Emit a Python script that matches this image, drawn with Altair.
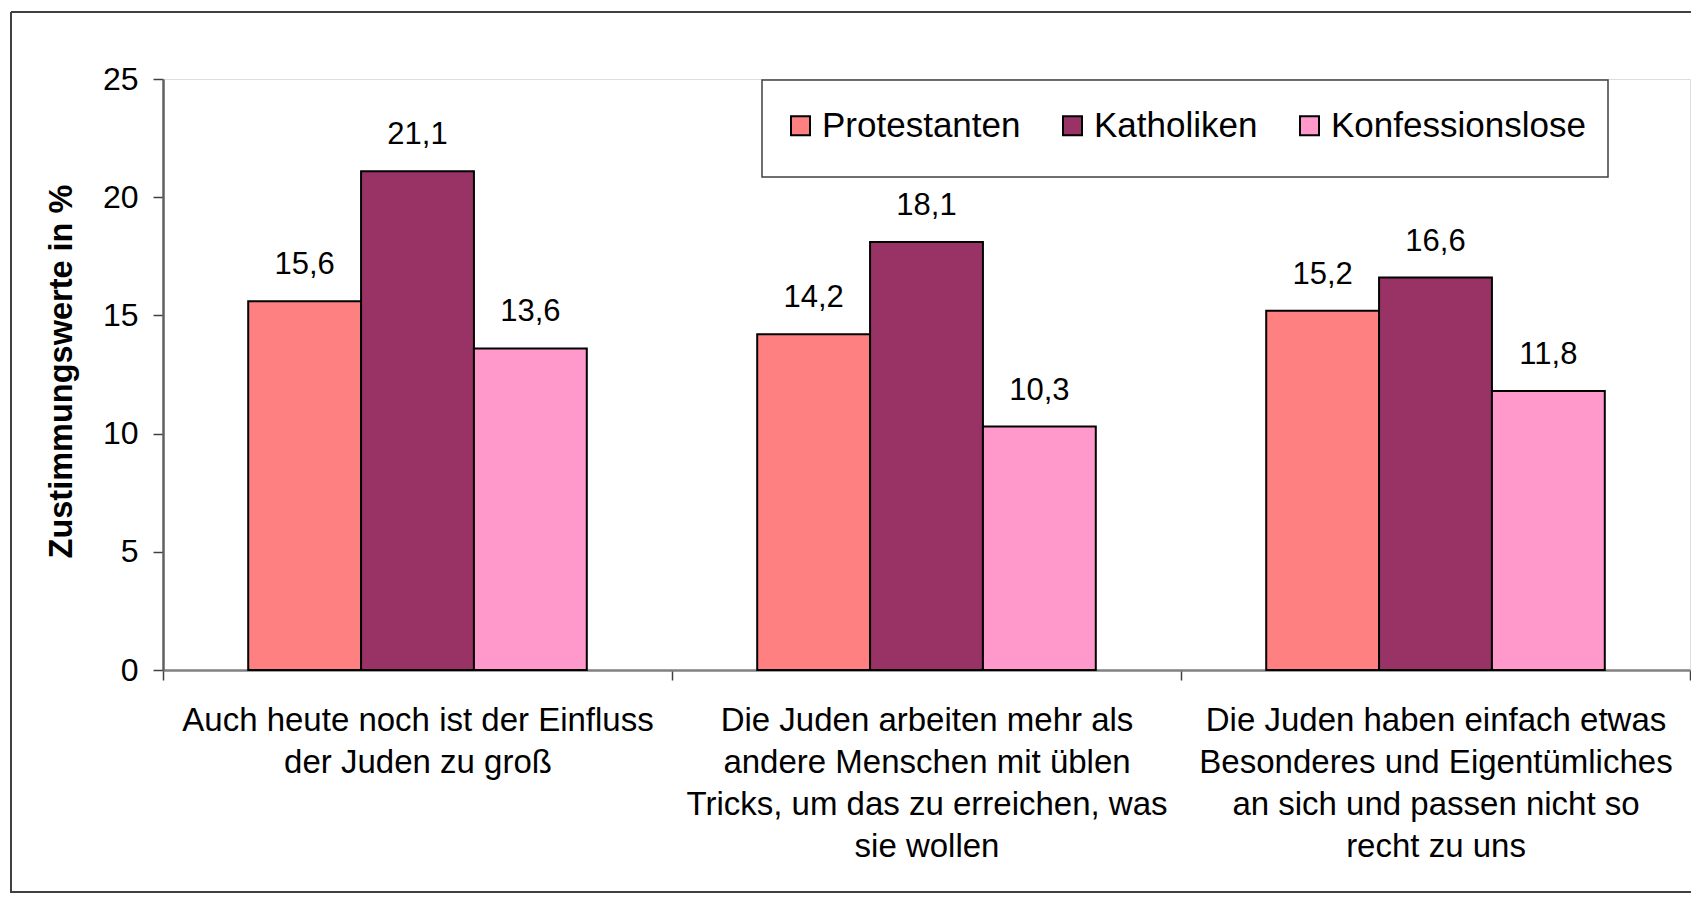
import altair as alt
import pandas as pd

categories = [
    "Auch heute noch ist der Einfluss|der Juden zu groß",
    "Die Juden arbeiten mehr als|andere Menschen mit üblen|Tricks, um das zu erreichen, was|sie wollen",
    "Die Juden haben einfach etwas|Besonderes und Eigentümliches|an sich und passen nicht so|recht zu uns",
]
series = ["Protestanten", "Katholiken", "Konfessionslose"]
protestanten = [15.6, 14.2, 15.2]
katholiken = [21.1, 18.1, 16.6]
konfessionslose = [13.6, 10.3, 11.8]
colors = ["#FF8080", "#993366", "#FF99CC"]
y_ticks = [0, 5, 10, 15, 20, 25]

rows = []
for s, vals in zip(series, [protestanten, katholiken, konfessionslose]):
    for c, v in zip(categories, vals):
        rows.append({"cat": c, "series": s, "value": v})
df = pd.DataFrame(rows)

FONT = "Liberation Sans"
W, H = 1527, 591

x_enc = alt.X(
    "cat:N",
    sort=categories,
    scale=alt.Scale(paddingInner=0, paddingOuter=0),
    axis=alt.Axis(
        title=None,
        labelAngle=0,
        labelExpr="split(datum.label, '|')",
        labelFont=FONT,
        labelFontSize=33,
        labelLineHeight=42,
        labelColor="black",
        labelPadding=24,
        labelLimit=800,
        tickBand="extent",
        tickSize=10,
        tickColor="#404040",
        tickWidth=1.5,
        domainColor="#808080",
        domainWidth=2.5,
    ),
)
xoff = alt.XOffset("series:N", sort=series,
                   scale=alt.Scale(paddingInner=0, paddingOuter=0.755))
y_enc = alt.Y(
    "value:Q",
    scale=alt.Scale(domain=[0, 25], nice=False),
    axis=alt.Axis(
        values=y_ticks,
        title="Zustimmungswerte in %",
        titleFont=FONT,
        titleFontSize=32.5,
        titleFontWeight="bold",
        titleColor="black",
        titleAngle=270,
        titleX=-92,
        titleY=292,
        titleAlign="center",
        titleBaseline="alphabetic",
        labelFont=FONT,
        labelFontSize=32,
        labelColor="black",
        labelPadding=15,
        tickSize=10,
        tickColor="#404040",
        tickWidth=1.5,
        domainColor="#606060",
        domainWidth=2.5,
        grid=False,
    ),
)

one = alt.Data(values=[{}])
legend_box = alt.Chart(one).mark_rect(fill="white", stroke="#404040", strokeWidth=1.5).encode(
    x=alt.value(599), x2=alt.value(1445), y=alt.value(1), y2=alt.value(98))

bars = alt.Chart(df).mark_bar(stroke="black", strokeWidth=2).encode(
    x=x_enc,
    xOffset=xoff,
    y=y_enc,
    color=alt.Color(
        "series:N",
        sort=series,
        scale=alt.Scale(domain=series, range=colors),
        legend=alt.Legend(
            title=None,
            orient="none",
            legendX=620,
            legendY=29,
            direction="horizontal",
            symbolType="square",
            symbolSize=361,
            symbolStrokeColor="black",
            symbolStrokeWidth=2,
            symbolOpacity=1,
            labelFont=FONT,
            labelFontSize=35,
            labelColor="black",
            labelOffset=4,
            labelLimit=400,
            columnPadding=34,
            padding=0,
        ),
    ),
)

labels = alt.Chart(df).transform_calculate(
    lab="replace(format(datum.value, '.1f'), '.', ',')"
).mark_text(font=FONT, fontSize=31, baseline="alphabetic", dy=-27, color="black").encode(
    x=alt.X("cat:N", sort=categories),
    xOffset=alt.XOffset("series:N", sort=series),
    y="value:Q",
    text="lab:N",
)

frame_top = alt.Chart(one).mark_rule(stroke="#404040", strokeWidth=2).encode(
    x=alt.value(-152), x2=alt.value(W + 60), y=alt.value(-67))
frame_left = alt.Chart(one).mark_rule(stroke="#404040", strokeWidth=2).encode(
    x=alt.value(-152), y=alt.value(-67), y2=alt.value(H + 223))
frame_bottom = alt.Chart(one).mark_rule(stroke="#404040", strokeWidth=2).encode(
    x=alt.value(-152), x2=alt.value(W + 60), y=alt.value(H + 222))

chart = alt.layer(frame_top, frame_left, frame_bottom, legend_box, bars, labels).properties(
    width=W, height=H,
    autosize=alt.AutoSizeParams(type="none"),
    padding={"left": 155, "top": 71, "right": 1, "bottom": 224},
).configure_view(stroke="#808080", strokeWidth=2.5).configure(background="white")

chart.save("out.html", embed_options={"renderer": "svg", "actions": False})
